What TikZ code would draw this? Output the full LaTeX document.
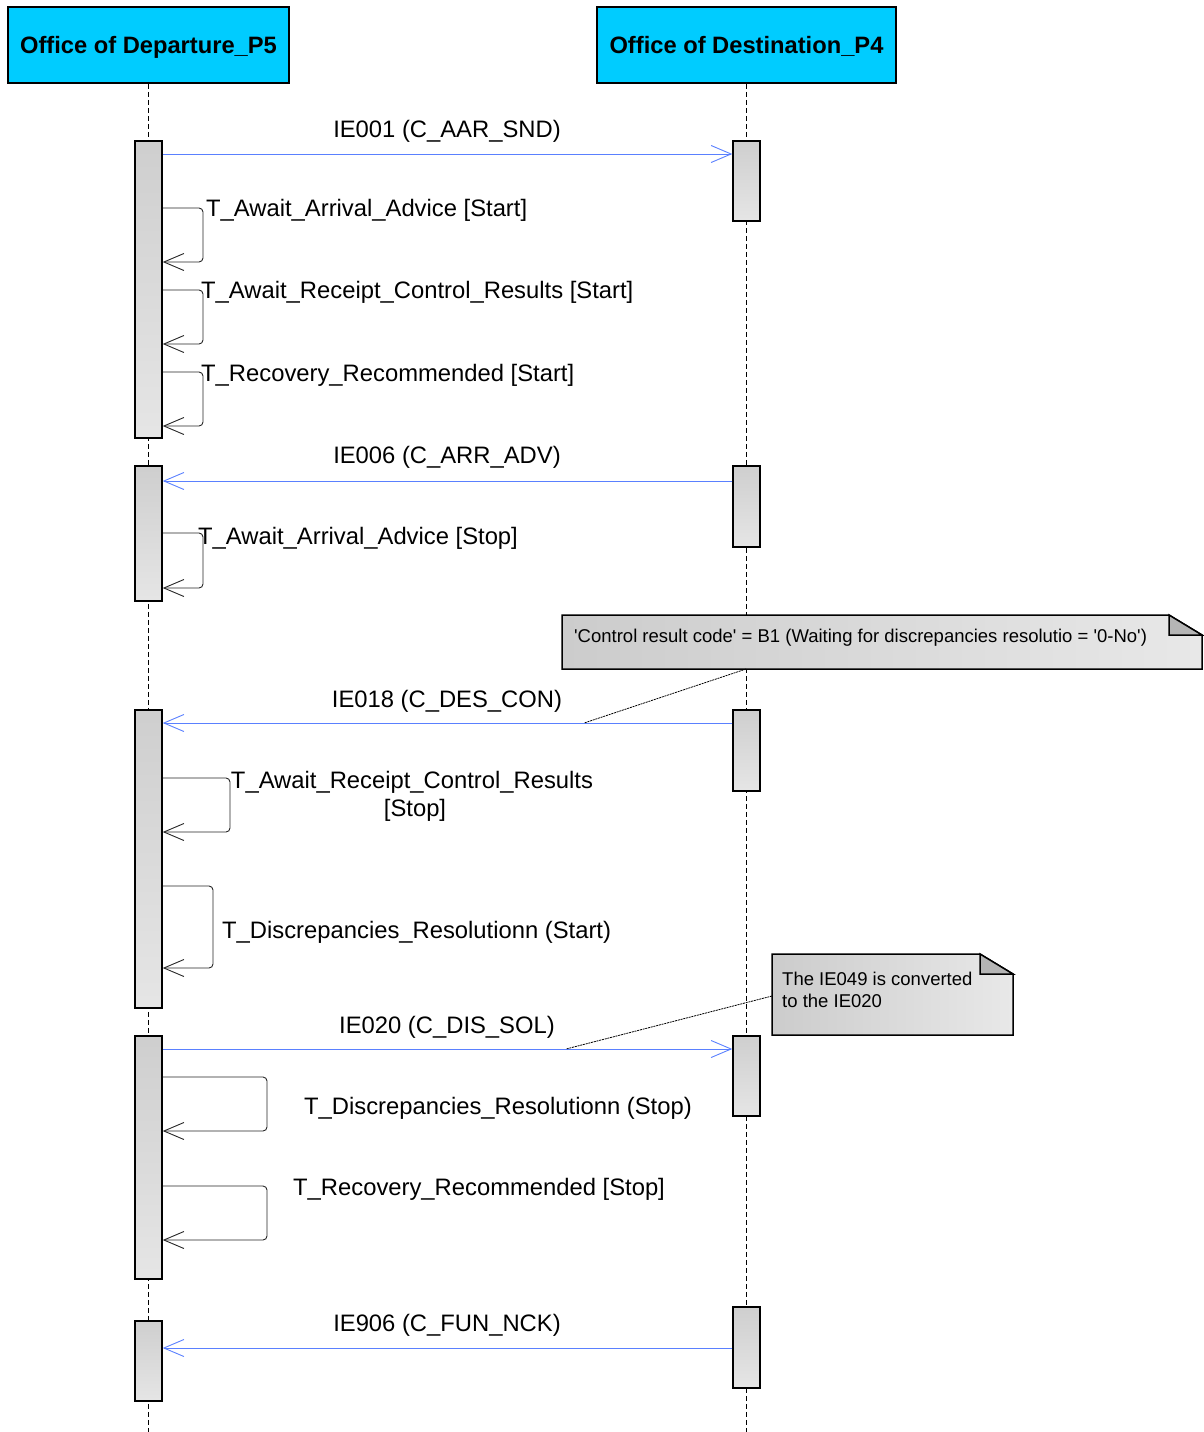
\documentclass[tikz,border=0pt]{standalone}
\usepackage{fontspec}
\setmainfont{Liberation Sans}
\usetikzlibrary{arrows.meta}
\definecolor{hdr}{HTML}{00CCFF}
\definecolor{msgblue}{HTML}{5A80FF}
\begin{document}
\begin{tikzpicture}[x=1pt,y=-1pt,
  hdrbox/.style={draw=black, line width=1.5pt, fill=hdr, minimum height=76pt, inner sep=0pt,
    text height=17pt, text depth=0pt, font=\bfseries\fontsize{23.7}{28}\selectfont},
  act/.style={draw=black, line width=1.5pt, top color=black!19, bottom color=black!10,
    minimum width=27pt, inner sep=0pt},
  life/.style={draw=black, line width=1.2pt, dash pattern=on 5pt off 3pt},
  tip/.style={-{Straight Barb[length=20pt,width=17pt]}},
  msg/.style={draw=msgblue, line width=0.9pt, tip},
  selfloop/.style={draw=black!85, line width=0.9pt, rounded corners=4pt, tip},
  lbl/.style={inner sep=0pt, font=\fontsize{23.8}{28}\selectfont},
  notetxt/.style={inner sep=0pt, font=\fontsize{18.5}{22}\selectfont},
  notebox/.style={draw=black, line width=1.5pt, left color=black!20, right color=black!9},
  fold/.style={draw=black, line width=1.5pt, fill=black!29},
  notelink/.style={draw=black, line width=0.8pt, dash pattern=on 2pt off 0.8pt}
]
\useasboundingbox (0,0) rectangle (1203,1432);

% headers
\node[hdrbox, minimum width=281pt] (h1) at (148.5,45) {Office of Departure\_P5};
\node[hdrbox, minimum width=299pt] (h2) at (746.5,45) {Office of Destination\_P4};

% lifelines
\coordinate (e1) at (148.5,1432);
\coordinate (e2) at (746.5,1432);
\draw[life] (h1.south) -- (e1);
\draw[life] (h2.south) -- (e2);

% activations left
\node[act, minimum height=297pt] (l1) at (148.5,289.5) {};
\node[act, minimum height=135pt] (l2) at (148.5,533.5) {};
\node[act, minimum height=298pt] (l3) at (148.5,859) {};
\node[act, minimum height=243pt] (l4) at (148.5,1157.5) {};
\node[act, minimum height=80pt] (l5) at (148.5,1361) {};
% activations right
\node[act, minimum height=80pt] (r1) at (746.5,181) {};
\node[act, minimum height=81pt] (r2) at (746.5,506.5) {};
\node[act, minimum height=81pt] (r3) at (746.5,750.5) {};
\node[act, minimum height=80pt] (r4) at (746.5,1076) {};
\node[act, minimum height=81pt] (r5) at (746.5,1347.5) {};

% messages
\draw[msg] (l1.east |- 0,154) -- (r1.west |- 0,154);
\node[lbl, anchor=base] (t1) at (447,137.5) {IE001 (C\_AAR\_SND)};
\draw[msg] (r2.west |- 0,481) -- (l2.east |- 0,481);
\node[lbl, anchor=base] (t2) at (447,463.5) {IE006 (C\_ARR\_ADV)};
\draw[msg] (r3.west |- 0,723) -- (l3.east |- 0,723);
\node[lbl, anchor=base] (t3) at (447,707.5) {IE018 (C\_DES\_CON)};
\draw[msg] (l4.east |- 0,1049) -- (r4.west |- 0,1049);
\node[lbl, anchor=base] (t4) at (447,1033.5) {IE020 (C\_DIS\_SOL)};
\draw[msg] (r5.west |- 0,1348) -- (l5.east |- 0,1348);
\node[lbl, anchor=base] (t5) at (447,1331.5) {IE906 (C\_FUN\_NCK)};

% self messages
\draw[selfloop] (l1.east |- 0,208) -- (203,208) -- (203,262) -- (l1.east |- 0,262);
\node[lbl, anchor=base west] (s1) at (206,216.5) {T\_Await\_Arrival\_Advice [Start]};
\draw[selfloop] (l1.east |- 0,290) -- (203,290) -- (203,344) -- (l1.east |- 0,344);
\node[lbl, anchor=base west] (s2) at (201,298.5) {T\_Await\_Receipt\_Control\_Results [Start]};
\draw[selfloop] (l1.east |- 0,372) -- (203,372) -- (203,426) -- (l1.east |- 0,426);
\node[lbl, anchor=base west] (s3) at (201,381.5) {T\_Recovery\_Recommended [Start]};
\draw[selfloop] (l2.east |- 0,533) -- (203,533) -- (203,588) -- (l2.east |- 0,588);
\node[lbl, anchor=base west] (s4) at (198,544.5) {T\_Await\_Arrival\_Advice [Stop]};
\draw[selfloop] (l3.east |- 0,778) -- (230,778) -- (230,832) -- (l3.east |- 0,832);
\node[lbl, anchor=base] (s5) at (412,788.5) {T\_Await\_Receipt\_Control\_Results};
\node[lbl, anchor=base] (s5b) at (415,816.5) {[Stop]};
\draw[selfloop] (l3.east |- 0,886) -- (213,886) -- (213,968) -- (l3.east |- 0,968);
\node[lbl, anchor=base west] (s6) at (222,938.5) {T\_Discrepancies\_Resolutionn (Start)};
\draw[selfloop] (l4.east |- 0,1077) -- (267,1077) -- (267,1131) -- (l4.east |- 0,1131);
\node[lbl, anchor=base west] (s7) at (304,1114.5) {T\_Discrepancies\_Resolutionn (Stop)};
\draw[selfloop] (l4.east |- 0,1186) -- (267,1186) -- (267,1240) -- (l4.east |- 0,1240);
\node[lbl, anchor=base west] (s8) at (293,1195.5) {T\_Recovery\_Recommended [Stop]};

% note 1
\path[notebox] (562,615) -- (1169,615) -- (1202,635) -- (1202,669) -- (562,669) -- cycle;
\path[fold] (1169,615) -- (1169,635) -- (1202,635) -- cycle;
\node[notetxt, anchor=base west] (n1) at (574,642.5) {\textquotesingle Control result code\textquotesingle{} = B1 (Waiting for discrepancies resolutio = \textquotesingle 0-No\textquotesingle)};
\coordinate (c1a) at (746,669);
\coordinate (c1b) at (584,723);
\draw[notelink] (c1a) -- (c1b);

% note 2
\path[notebox] (772,954) -- (980,954) -- (1013,974) -- (1013,1035) -- (772,1035) -- cycle;
\path[fold] (980,954) -- (980,974) -- (1013,974) -- cycle;
\node[notetxt, anchor=base west] (n2) at (782,985.5) {The IE049 is converted};
\node[notetxt, anchor=base west] (n2b) at (782,1007.5) {to the IE020};
\coordinate (c2a) at (772,996);
\coordinate (c2b) at (566,1049);
\draw[notelink] (c2a) -- (c2b);
\end{tikzpicture}
\end{document}
